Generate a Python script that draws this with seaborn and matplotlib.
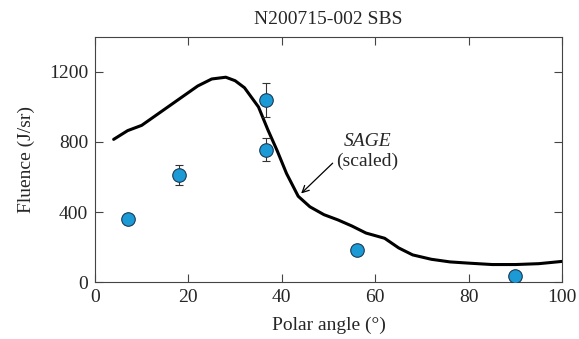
import matplotlib
matplotlib.use("Agg")
import matplotlib.pyplot as plt
import numpy as np
import pandas as pd
import seaborn as sns

# SAGE (scaled) curve
sage_angle = [4, 7, 10, 14, 18, 22, 25, 28, 30, 32, 35, 37, 39, 41, 43.5,
              46, 49, 52, 55, 58, 62, 65, 68, 72, 76, 80, 85, 90, 95, 100]
sage_fluence = [815, 865, 895, 970, 1045, 1120, 1160, 1170, 1150, 1110, 1000,
                870, 750, 620, 490, 430, 385, 355, 320, 280, 250, 195, 155,
                130, 115, 108, 100, 100, 105, 118]

# measured points
meas_angle = [7.1, 18, 36.6, 36.6, 56, 90]
meas_fluence = [360, 612, 1040, 755, 185, 35]
meas_err = [30, 55, 95, 65, 0, 0]

sns.set_theme(style="ticks")
plt.rcParams["font.family"] = ["Liberation Serif", "DejaVu Serif"]

curve = pd.DataFrame({"angle": sage_angle, "fluence": sage_fluence})
meas = pd.DataFrame({"angle": meas_angle, "fluence": meas_fluence, "err": meas_err})

fig, ax = plt.subplots(figsize=(5.79, 3.39), dpi=100)
sns.lineplot(data=curve, x="angle", y="fluence", color="black", lw=2.2, ax=ax)
ax.errorbar(meas["angle"], meas["fluence"], yerr=meas["err"], fmt="none",
            ecolor="#333333", elinewidth=0.8, capsize=3, capthick=0.8, zorder=3)
sns.scatterplot(data=meas, x="angle", y="fluence", s=95, color="#1c9ad6",
                edgecolor="#1a3a55", linewidth=0.8, zorder=4, ax=ax)

ax.annotate("", xy=(43.7, 495), xytext=(51.3, 690),
            arrowprops=dict(arrowstyle="->", color="black", lw=0.9))
ax.text(58.3, 800, "SAGE", style="italic", ha="center", va="center", fontsize=14)
ax.text(58.3, 690, "(scaled)", ha="center", va="center", fontsize=14)

ax.set_xlim(0, 100)
ax.set_ylim(0, 1400)
ax.set_xticks([0, 20, 40, 60, 80, 100])
ax.set_yticks([0, 400, 800, 1200])
ax.tick_params(direction="in", top=True, right=True, length=6, width=0.8,
               labelsize=14, color="#444444", pad=5)
for s in ax.spines.values():
    s.set_color("#444444")
    s.set_linewidth(0.8)
ax.set_xlabel("Polar angle (°)", fontsize=14, labelpad=8)
ax.set_ylabel("Fluence (J/sr)", fontsize=14, labelpad=10)
ax.set_title("N200715-002 SBS", fontsize=14, pad=9)

fig.subplots_adjust(left=0.164, right=0.971, top=0.891, bottom=0.168)
fig.savefig("out.png", dpi=100)
